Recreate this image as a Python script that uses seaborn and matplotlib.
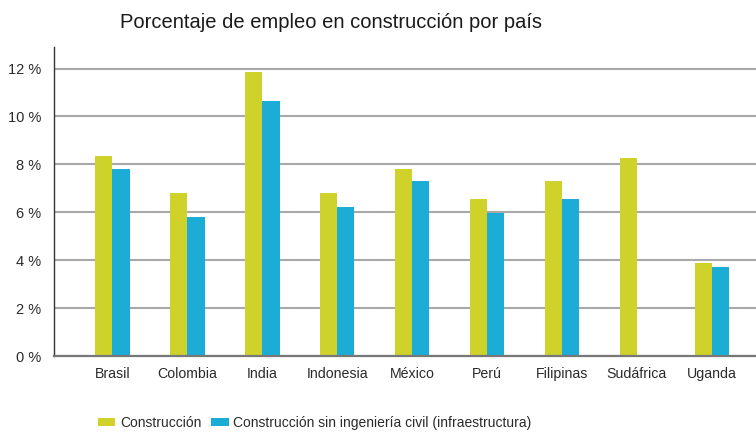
import numpy as np
import pandas as pd
import matplotlib
matplotlib.use("Agg")
import matplotlib.pyplot as plt
import seaborn as sns
from matplotlib.patches import Patch

# ---- data ----
paises = ["Brasil", "Colombia", "India", "Indonesia", "México", "Perú",
          "Filipinas", "Sudáfrica", "Uganda"]
construccion = [8.35, 6.8, 11.85, 6.8, 7.8, 6.55, 7.3, 8.25, 3.9]
construccion_sin_civil = [7.8, 5.8, 10.65, 6.2, 7.3, 5.95, 6.55, np.nan, 3.72]
series = ["Construcción", "Construcción sin ingeniería civil (infraestructura)"]
yticks = [0, 2, 4, 6, 8, 10, 12]
title = "Porcentaje de empleo en construcción por país"

colors = ["#D0D22C", "#1CADD7"]

df = pd.DataFrame({
    "pais": paises * 2,
    "valor": construccion + construccion_sin_civil,
    "serie": [series[0]] * len(paises) + [series[1]] * len(paises),
})

sns.set_theme(style="white")
plt.rcParams["font.family"] = ["Liberation Sans", "DejaVu Sans"]

fig = plt.figure(figsize=(7.56, 4.32), dpi=100)
ax = fig.add_axes([54 / 756, 1 - 356 / 432, 1 - 54 / 756, (356 - 47) / 432])

sns.barplot(data=df, x="pais", y="valor", hue="serie", order=paises,
            hue_order=series, palette=colors, width=0.46, saturation=1,
            dodge=True, ax=ax, legend=False, linewidth=0)

ax.set_ylim(0, 12.9)
ax.set_xlim(-0.78, 8.59)
ax.set_yticks(yticks)
ax.set_yticklabels([f"{v} %" for v in yticks])
ax.set_xlabel("")
ax.set_ylabel("")

ax.yaxis.grid(True, color="#a8a8a8", linewidth=1.5)
ax.set_axisbelow(True)
ax.tick_params(axis="y", length=0, pad=9, labelsize=10.5, labelcolor="#2a2a2a")
ax.tick_params(axis="x", length=0, pad=8, labelsize=10.2, labelcolor="#2a2a2a")

for s in ["top", "right"]:
    ax.spines[s].set_visible(False)
ax.spines["left"].set_color("#333333")
ax.spines["left"].set_linewidth(1.0)
ax.spines["bottom"].set_color("#777777")
ax.spines["bottom"].set_linewidth(1.6)

fig.text(120 / 756, 1 - 22 / 432, title, ha="left", va="center",
         fontsize=14.5, color="#1a1a1a")

handles = [Patch(facecolor=c, edgecolor="none") for c in colors]
fig.legend(handles, series, loc="center left",
           bbox_to_anchor=(91 / 756, 1 - 423 / 432), ncol=2, frameon=False,
           fontsize=10, handlelength=1.25, handleheight=0.5,
           handletextpad=0.35, columnspacing=0.7, borderpad=0,
           labelcolor="#2a2a2a")

fig.savefig("out.png", dpi=100)
